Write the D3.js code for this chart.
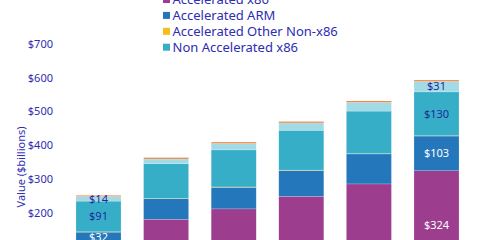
<!DOCTYPE html>
<html>
<head>
<meta charset="utf-8">
<script src="https://cdn.jsdelivr.net/npm/d3@7"></script>
<style>
  html, body { margin: 0; padding: 0; background: #fff; }
  svg { display: block; font-family: "Noto Sans", "Open Sans", sans-serif; }
</style>
</head>
<body>
<div id="vis"></div>
<script>
// constants for plot design
const FRAME_WIDTH = 480;
const FRAME_HEIGHT = 240;
const TEXT_BLUE = "#2d2db3";

// data ($ billions)
const years = ["2019", "2020", "2021", "2022", "2023", "2024"];
const accelX86 = [110, 180, 211, 248, 285, 324];
const accelARM = [32, 61, 64, 77, 89, 103];
const accelOther = [1, 1, 1, 1, 1, 1];
const nonAccelX86 = [91, 103, 110, 118, 126, 130];
const nonAccelARM = [14, 14, 19, 22, 26, 31];
const nonAccelOther = [3, 4, 4, 4, 4, 4];

const seriesNames = ["Accelerated x86", "Accelerated ARM", "Accelerated Other Non-x86",
                     "Non Accelerated x86", "Non Accelerated ARM", "Non Accelerated Other Non-x86"];
const seriesColors = ["#9c3d8e", "#2577bc", "#f5bf1b", "#37aec8", "#a2dbe5", "#ec7f3a"];
const labelColors = ["#ffffff", "#ffffff", TEXT_BLUE, "#1f2a99", "#1f2a99", TEXT_BLUE];
const labelledBars = ["2019", "2024"];
const yTicks = [0, 100, 200, 300, 400, 500, 600, 700];

const keys = ["x86", "arm", "other", "nx86", "narm", "nother"];
const rows = years.map((y, i) => ({
  year: y,
  x86: accelX86[i], arm: accelARM[i], other: accelOther[i],
  nx86: nonAccelX86[i], narm: nonAccelARM[i], nother: nonAccelOther[i]
}));

const stacked = d3.stack().keys(keys)(rows);

// scales
const xScale = d3.scaleBand()
                 .domain(years)
                 .range([64.7, 470.3])
                 .paddingInner(0.334)
                 .paddingOuter(0.167);

const yScale = d3.scaleLinear()
                 .domain([0, 700])
                 .range([280, 44]);

const svg = d3.select("#vis")
              .append("svg")
                .attr("width", FRAME_WIDTH)
                .attr("height", FRAME_HEIGHT);

// stacked bars
const layers = svg.selectAll(".layer")
                  .data(stacked)
                  .enter()
                  .append("g")
                    .attr("class", "layer")
                    .attr("fill", (d, i) => seriesColors[i]);

layers.selectAll("rect")
      .data(d => d)
      .enter()
      .append("rect")
        .attr("x", d => xScale(d.data.year))
        .attr("width", xScale.bandwidth())
        .attr("y", d => yScale(d[1]))
        .attr("height", d => yScale(d[0]) - yScale(d[1]))
        .attr("stroke", "#ffffff")
        .attr("stroke-opacity", 0.35)
        .attr("stroke-width", 0.5);

// data labels on first and last bars
stacked.forEach((layer, i) => {
  if (i === 2 || i === 5) return;
  svg.append("g")
     .selectAll("text")
     .data(layer.filter(d => labelledBars.includes(d.data.year)))
     .enter()
     .append("text")
       .attr("x", d => xScale(d.data.year) + xScale.bandwidth() / 2)
       .attr("y", d => (yScale(d[0]) + yScale(d[1])) / 2)
       .attr("dy", "0.35em")
       .attr("text-anchor", "middle")
       .attr("font-size", "11px")
       .attr("fill", labelColors[i])
       .text(d => "$" + (d[1] - d[0]));
});

// y axis (labels only)
const yAxis = svg.append("g")
   .attr("transform", "translate(53,0)")
   .call(d3.axisLeft(yScale).tickValues(yTicks).tickSize(0).tickPadding(0)
           .tickFormat(d => "$" + d));
yAxis.select(".domain").remove();
yAxis.selectAll("text")
     .attr("font-size", "11px")
     .attr("font-family", "Noto Sans, Open Sans, sans-serif")
     .attr("fill", TEXT_BLUE);

// y axis title
svg.append("text")
   .attr("transform", "translate(21,167) rotate(-90)")
   .attr("text-anchor", "middle")
   .attr("dy", "0.35em")
   .attr("font-size", "11px")
   .attr("fill", TEXT_BLUE)
   .text("Value  ($billions)");

// legend (first four entries are what shows in the frame)
const legend = svg.append("g")
                  .selectAll("g")
                  .data(seriesNames.slice(0, 4))
                  .enter()
                  .append("g")
                    .attr("transform", (d, i) => "translate(163," + (-0.5 + i * 15.9) + ")");

legend.append("rect")
      .attr("x", 0)
      .attr("y", -3.5)
      .attr("width", 7)
      .attr("height", 7)
      .attr("fill", (d, i) => seriesColors[i]);

legend.append("text")
      .attr("x", 9.5)
      .attr("dy", "0.35em")
      .attr("font-size", "13px")
      .attr("fill", TEXT_BLUE)
      .text(d => d);
</script>
</body>
</html>
